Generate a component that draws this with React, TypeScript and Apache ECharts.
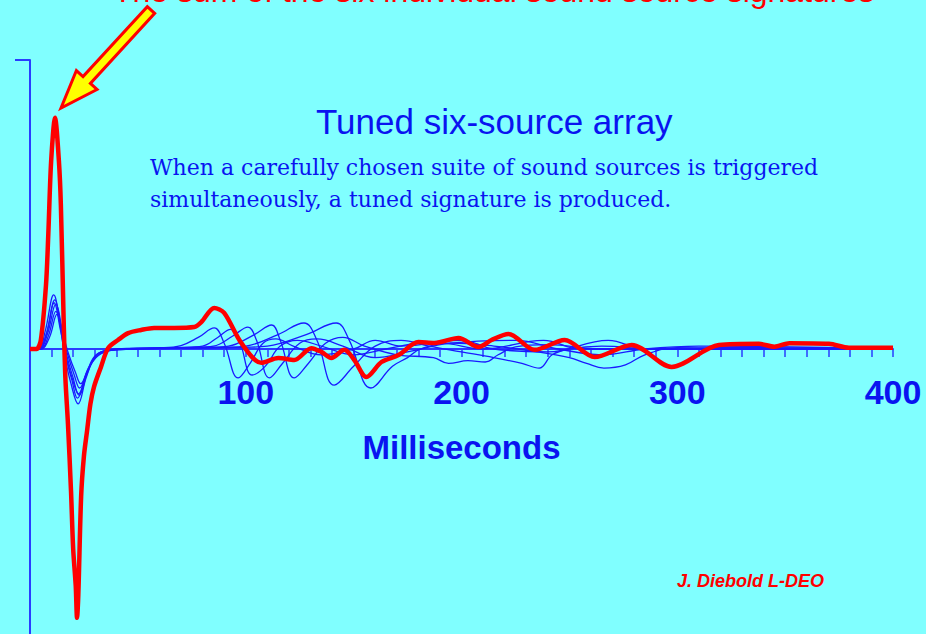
import { useEffect, useRef } from "react";
import * as echarts from "echarts";

// Summed (tuned array) signature: time in ms, amplitude (relative units)
const sumTimes = [0, 3, 5, 7.4, 8.5, 9.8, 11.6, 13.4, 14.3, 15.6, 16.4, 17.6, 19, 20, 21.2, 21.8, 22.4, 23.7, 25, 26.5, 28, 29.7, 32.9, 36.2, 40.8, 45.5, 51.5, 57.5, 66.8, 76.1, 79.4, 85.4, 90, 97.9, 107.2, 115.1, 122.5, 130.4, 135, 139.7, 145.7, 150.3, 155.9, 162.9, 170.8, 180, 187.5, 198.6, 207.9, 213.9, 221.8, 233.9, 247.8, 261.7, 278.9, 297.4, 319.3, 337.8, 345, 352, 370.3, 379.6, 400];
const sumValues = [0, 0, 0.03, 0.22, 0.4, 0.65, 0.8, 0.65, 0.5, 0.1, -0.1, -0.26, -0.49, -0.69, -0.82, -0.93, -0.85, -0.51, -0.37, -0.28, -0.19, -0.13, -0.062, 0.003, 0.031, 0.055, 0.066, 0.073, 0.073, 0.076, 0.093, 0.142, 0.125, 0.021, -0.048, -0.031, -0.038, 0.003, -0.01, -0.031, -0.003, -0.038, -0.097, -0.045, -0.021, 0.024, 0.021, 0.038, 0.007, 0.031, 0.052, -0.003, 0.031, -0.028, 0.014, -0.062, 0.014, 0.018, 0.008, 0.02, 0.018, 0.004, 0.004];

// Six individual source signatures: [ms, amplitude]
const source1 = [[0, 0], [4, 0], [7, 0.06], [11, 0.187], [14, 0.08], [16, -0.02], [19, -0.12], [22.3, -0.19], [26, -0.1], [30, -0.03], [35, -0.005], [45, 0.002], [60, 0.004], [70, 0.012], [78, 0.04], [85.4, 0.073], [90, 0.02], [96.5, -0.1], [102, -0.05], [108, 0.02], [114, 0.035], [122, 0.01], [135, -0.02], [150, 0], [160, 0.03], [172, 0.01], [190, 0.02], [210, 0], [238, 0.03], [255, 0], [300, 0], [400, 0]];
const source2 = [[0, 0], [4, 0], [7.5, 0.05], [11.5, 0.17], [14.5, 0.07], [16.5, -0.02], [19.5, -0.11], [22, -0.17], [26, -0.09], [30, -0.025], [36, -0.004], [50, 0.002], [70, 0.005], [80, 0.01], [87, 0.04], [93, 0.068], [97, 0.03], [103, -0.09], [109, -0.06], [116, 0.01], [124, 0.03], [135, 0.01], [150, -0.02], [165, 0], [180, 0.02], [200, 0.03], [215, 0], [240, -0.01], [268, 0.03], [285, 0], [320, 0.005], [400, 0]];
const source3 = [[0, 0], [4.5, 0], [8, 0.05], [12, 0.155], [15, 0.06], [17, -0.02], [20, -0.1], [22.5, -0.155], [26.5, -0.08], [31, -0.02], [37, -0.003], [55, 0.003], [75, 0.006], [85, 0.01], [94, 0.045], [101, 0.076], [105, 0.03], [111, -0.1], [117, -0.05], [125, 0.02], [133, 0.035], [145, 0.01], [160, -0.03], [175, -0.01], [195, 0.02], [225, 0.03], [245, 0], [265, -0.02], [285, 0], [310, 0.01], [400, 0]];
const source4 = [[0, 0], [4, 0], [7.5, 0.05], [11.2, 0.16], [14, 0.07], [16.5, -0.02], [19.5, -0.1], [22.8, -0.16], [26.5, -0.085], [31, -0.02], [38, -0.004], [60, 0.003], [82, 0.006], [92, 0.01], [104, 0.05], [112, 0.083], [116, 0.03], [122.5, -0.1], [129, -0.05], [137, 0.02], [145, 0.04], [155, 0.01], [170, -0.02], [187, -0.03], [194, -0.05], [203, -0.04], [211, -0.045], [217, -0.02], [225, 0.007], [240, 0.015], [265, 0], [300, 0], [400, 0]];
const source5 = [[0, 0], [5, 0], [8.5, 0.045], [12, 0.13], [15, 0.05], [17.5, -0.02], [20.5, -0.09], [23, -0.135], [27, -0.07], [32, -0.02], [40, -0.003], [70, 0.003], [90, 0.006], [100, 0.01], [115, 0.05], [127, 0.09], [133, 0.03], [141, -0.125], [150, -0.06], [160, 0.01], [172, 0.03], [185, 0.01], [200, -0.01], [215, -0.03], [228, -0.05], [236, -0.066], [242, -0.02], [250, 0], [265, 0.01], [290, 0], [400, 0]];
const source6 = [[0, 0], [5, 0], [9, 0.04], [12.5, 0.12], [15.5, 0.045], [18, -0.02], [21, -0.08], [23.5, -0.12], [27.5, -0.06], [33, -0.015], [42, -0.002], [80, 0.003], [100, 0.006], [110, 0.01], [128, 0.05], [142, 0.09], [148, 0.03], [158, -0.135], [168, -0.06], [175, -0.03], [181, 0], [195, 0.02], [215, 0.01], [235, -0.01], [250, -0.03], [258, -0.05], [266, -0.066], [276, -0.055], [285, -0.02], [300, 0.005], [330, 0], [400, 0]];

const sources = [source1, source2, source3, source4, source5, source6];
const xLabelValues = [100, 200, 300, 400];

const BG = "#80ffff";
const AXIS_BLUE = "#2a3cff";
const TEXT_BLUE = "#0a14f0";
const CURVE_BLUE = "#1a1aff";
const RED = "#ff0000";

const GRID_TOP = 60;
const GRID_BOTTOM = -4; // y axis runs past the bottom edge
const CHART_H = 634;

function arrowPoints(tip: number[], tail: number[], headLen: number, headHalf: number, shaftHalf: number) {
  const dx = tip[0] - tail[0];
  const dy = tip[1] - tail[1];
  const len = Math.hypot(dx, dy);
  const ux = dx / len, uy = dy / len;
  const nx = -uy, ny = ux;
  const bx = tip[0] - ux * headLen, by = tip[1] - uy * headLen;
  return [
    tip,
    [bx + nx * headHalf, by + ny * headHalf],
    [bx + nx * shaftHalf, by + ny * shaftHalf],
    [tail[0] + nx * shaftHalf, tail[1] + ny * shaftHalf],
    [tail[0] - nx * shaftHalf, tail[1] - ny * shaftHalf],
    [bx - nx * shaftHalf, by - ny * shaftHalf],
    [bx - nx * headHalf, by - ny * headHalf],
  ];
}

export default function App() {
  const ref = useRef<HTMLDivElement>(null);
  useEffect(() => {
    document.body.style.margin = "0";
    const chart = echarts.init(ref.current!, null, { renderer: "svg" });
    const sumData = sumTimes.map((t, i) => [t, sumValues[i]]);
    // y range is symmetric (-1..1), so the zero line sits half-way down the grid
    const gridH = CHART_H - GRID_TOP - GRID_BOTTOM;
    const zeroOffset = -gridH / 2;
    const option: any = {
      animation: false,
      backgroundColor: BG,
      grid: { left: 30, right: 33, top: GRID_TOP, bottom: GRID_BOTTOM, containLabel: false, outerBoundsMode: "none" },
      xAxis: {
        type: "value",
        position: "bottom",
        offset: zeroOffset,
        min: 0,
        max: 400,
        interval: 10,
        axisLine: { onZero: false, lineStyle: { color: AXIS_BLUE, width: 2 } },
        axisTick: { length: 8, lineStyle: { color: AXIS_BLUE, width: 1.5 } },
        axisLabel: {
          formatter: (v: number) => (xLabelValues.includes(v) ? String(v) : ""),
          color: TEXT_BLUE,
          fontFamily: "Liberation Sans, Arial, sans-serif",
          fontSize: 34,
          fontWeight: "bold",
          margin: 26,
        },
        splitLine: { show: false },
        name: "Milliseconds",
        nameLocation: "middle",
        nameGap: 82,
        nameTextStyle: {
          color: TEXT_BLUE,
          fontFamily: "Liberation Sans, Arial, sans-serif",
          fontSize: 33,
          fontWeight: "bold",
        },
      },
      yAxis: {
        type: "value",
        min: -1,
        max: 1,
        axisLine: { show: true, onZero: false, lineStyle: { color: AXIS_BLUE, width: 2 } },
        axisTick: { show: true, customValues: [1], length: 15, lineStyle: { color: AXIS_BLUE, width: 2 } },
        axisLabel: { show: false },
        splitLine: { show: false },
      },
      series: [
        ...sources.map((s, i) => ({
          type: "line",
          name: "Source " + (i + 1),
          data: s,
          showSymbol: false,
          smooth: 0.4,
          lineStyle: { color: CURVE_BLUE, width: 1.3 },
          z: 2,
        })),
        {
          type: "line",
          name: "Sum",
          data: sumData,
          showSymbol: false,
          smooth: 0.3,
          lineStyle: { color: RED, width: 4.5 },
          z: 5,
        },
      ],
      graphic: [
        {
          type: "text",
          x: 113,
          y: -9,
          style: {
            text: "The sum of the six individual sound source signatures",
            fill: RED,
            font: "32px 'Liberation Sans', Arial, sans-serif",
            textVerticalAlign: "middle",
          },
        },
        {
          type: "polygon",
          shape: { points: arrowPoints([61, 108], [151, 10], 38, 14, 5) },
          style: { fill: "#ffff00", stroke: RED, lineWidth: 3, lineJoin: "miter" },
          z: 10,
        },
        {
          type: "text",
          x: 316,
          y: 121,
          style: {
            text: "Tuned six-source array",
            fill: TEXT_BLUE,
            font: "35px 'Liberation Sans', Arial, sans-serif",
            textVerticalAlign: "middle",
          },
        },
        {
          type: "text",
          x: 150,
          y: 167,
          style: {
            text: "When a carefully chosen suite of sound sources is triggered",
            fill: TEXT_BLUE,
            font: "22px 'DejaVu Serif', serif",
            textVerticalAlign: "middle",
          },
        },
        {
          type: "text",
          x: 150,
          y: 199,
          style: {
            text: "simultaneously, a tuned signature is produced.",
            fill: TEXT_BLUE,
            font: "22px 'DejaVu Serif', serif",
            textVerticalAlign: "middle",
          },
        },
        {
          type: "text",
          x: 677,
          y: 581,
          style: {
            text: "J. Diebold L-DEO",
            fill: RED,
            font: "italic bold 18px 'Liberation Sans', Arial, sans-serif",
            textVerticalAlign: "middle",
          },
        },
      ],
    };
    chart.setOption(option);
    return () => chart.dispose();
  }, []);
  return (
    <div
      ref={ref}
      style={{ position: "fixed", left: 0, top: 0, width: 926, height: 634, background: BG }}
    />
  );
}
